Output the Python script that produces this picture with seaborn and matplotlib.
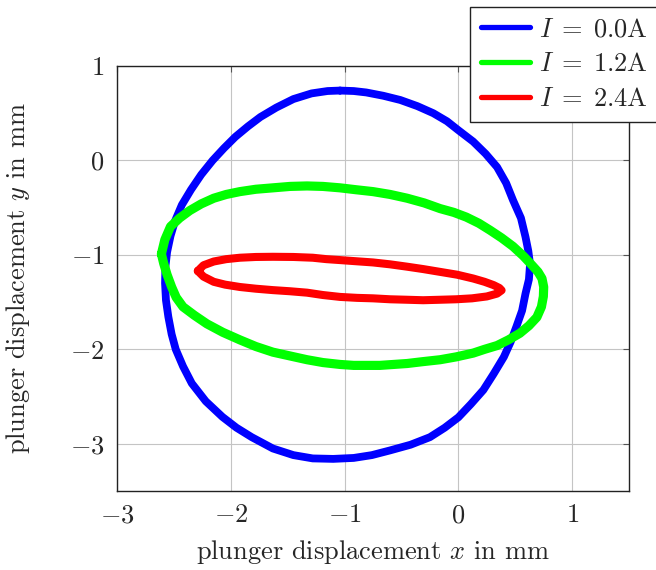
import numpy as np
import pandas as pd
import matplotlib
matplotlib.use("Agg")
import matplotlib.pyplot as plt
import seaborn as sns

# ---- data ----
labels = [r"$I\;=\;0.0$A", r"$I\;=\;1.2$A", r"$I\;=\;2.4$A"]
colors = ["#0000ff", "#00ff00", "#ff0000"]

x_00 = [-1.04, -0.92, -0.81, -0.66, -0.51, -0.36, -0.22, -0.10, 0.00, 0.13, 0.24, 0.34,
        0.42, 0.48, 0.55, 0.59, 0.615, 0.63, 0.62, 0.59, 0.56, 0.51, 0.46, 0.40, 0.31,
        0.22, 0.11, 0.00, -0.12, -0.25, -0.42, -0.60, -0.76, -0.92, -1.10, -1.28, -1.45,
        -1.63, -1.816, -1.95, -2.074, -2.22, -2.343, -2.42, -2.484, -2.52, -2.549,
        -2.57, -2.578, -2.575, -2.56, -2.53, -2.49, -2.43, -2.35, -2.26, -2.16, -2.06,
        -1.96, -1.85, -1.74, -1.60, -1.45, -1.29, -1.15]
y_00 = [0.74, 0.735, 0.72, 0.685, 0.64, 0.575, 0.50, 0.415, 0.32, 0.20, 0.07, -0.07,
        -0.24, -0.42, -0.61, -0.81, -0.96, -1.10, -1.26, -1.41, -1.59, -1.76, -1.92,
        -2.08, -2.26, -2.43, -2.58, -2.72, -2.83, -2.93, -3.01, -3.07, -3.12, -3.15,
        -3.16, -3.155, -3.12, -3.05, -2.93, -2.83, -2.715, -2.55, -2.36, -2.18, -2.00,
        -1.84, -1.656, -1.48, -1.30, -1.13, -0.97, -0.80, -0.64, -0.47, -0.31, -0.15,
        0.00, 0.13, 0.25, 0.36, 0.46, 0.56, 0.65, 0.71, 0.735]

x_12 = [-2.61, -2.58, -2.53, -2.45, -2.36, -2.26, -2.15, -2.04, -1.92, -1.78, -1.63,
        -1.48, -1.33, -1.19, -1.04, -0.90, -0.75, -0.60, -0.45, -0.30, -0.16, -0.04,
        0.07, 0.18, 0.28, 0.38, 0.48, 0.57, 0.64, 0.70, 0.735, 0.75, 0.747, 0.73, 0.69,
        0.62, 0.54, 0.44, 0.34, 0.23, 0.13, -0.02, -0.16, -0.31, -0.45, -0.57, -0.69,
        -0.81, -0.92, -1.04, -1.19, -1.33, -1.48, -1.63, -1.78, -1.92, -2.07, -2.21,
        -2.32, -2.42, -2.48, -2.52, -2.56, -2.59]
y_12 = [-0.99, -0.84, -0.70, -0.61, -0.53, -0.46, -0.40, -0.36, -0.33, -0.305, -0.29,
        -0.275, -0.27, -0.275, -0.29, -0.31, -0.33, -0.36, -0.40, -0.45, -0.51, -0.55,
        -0.60, -0.665, -0.74, -0.82, -0.91, -1.01, -1.10, -1.18, -1.25, -1.34, -1.44,
        -1.55, -1.66, -1.75, -1.83, -1.90, -1.96, -2.00, -2.04, -2.08, -2.11, -2.13,
        -2.15, -2.16, -2.17, -2.17, -2.17, -2.16, -2.14, -2.11, -2.07, -2.03, -1.97,
        -1.90, -1.82, -1.73, -1.64, -1.55, -1.45, -1.34, -1.21, -1.09]

x_24 = [-2.29, -2.24, -2.15, -2.04, -1.92, -1.78, -1.63, -1.45, -1.28, -1.16, -1.04,
        -0.89, -0.75, -0.60, -0.45, -0.31, -0.16, -0.01, 0.13, 0.23, 0.31, 0.36, 0.38,
        0.34, 0.25, 0.12, -0.02, -0.16, -0.31, -0.45, -0.60, -0.75, -0.89, -1.04,
        -1.19, -1.33, -1.48, -1.63, -1.78, -1.92, -2.05, -2.15, -2.24]
y_24 = [-1.17, -1.11, -1.07, -1.045, -1.03, -1.022, -1.02, -1.022, -1.03, -1.045,
        -1.055, -1.068, -1.08, -1.10, -1.125, -1.15, -1.18, -1.21, -1.25, -1.285,
        -1.32, -1.35, -1.375, -1.41, -1.44, -1.46, -1.47, -1.475, -1.48, -1.475,
        -1.47, -1.46, -1.455, -1.445, -1.425, -1.40, -1.385, -1.373, -1.358, -1.34,
        -1.315, -1.285, -1.23]

xticks = [-3, -2, -1, 0, 1]
yticks = [1, 0, -1, -2, -3]

frames = []
for lab, xs, ys in zip(labels, [x_00, x_12, x_24], [y_00, y_12, y_24]):
    xs_c = list(xs) + [xs[0]]
    ys_c = list(ys) + [ys[0]]
    frames.append(pd.DataFrame({"x": xs_c, "y": ys_c, "current": lab,
                                "idx": np.arange(len(xs_c))}))
df = pd.concat(frames, ignore_index=True)

# ---- style ----
sns.set_style("white")
plt.rcParams.update({
    "font.family": "serif",
    "font.serif": ["cmr10"],
    "mathtext.fontset": "cm",
    "axes.formatter.use_mathtext": True,
    "font.size": 19,
    "axes.unicode_minus": True,
})

fig = plt.figure(figsize=(6.56, 5.70), dpi=100)
ax = fig.add_axes([0.1784, 0.1386, 0.7805, 0.7456])

widths = {labels[0]: 5.6, labels[1]: 6.6, labels[2]: 5.8}
for lab, col in zip(labels, colors):
    sub = df[df["current"] == lab]
    sns.lineplot(data=sub, x="x", y="y", sort=False, estimator=None,
                 color=col, lw=widths[lab], ax=ax, label=lab,
                 solid_joinstyle="round", solid_capstyle="round", zorder=3)

ax.set_xlim(-3, 1.5)
ax.set_ylim(-3.5, 1)
ax.set_xticks(xticks)
ax.set_yticks(yticks)
ax.grid(True, color="#c4c4c4", lw=0.8, zorder=0)
ax.set_axisbelow(True)
ax.tick_params(direction="in", length=4, width=0.8, color="#555555",
               top=True, right=True, labelsize=19, pad=9)
for sp in ax.spines.values():
    sp.set_color("#222222")
    sp.set_linewidth(1.0)
    sp.set_zorder(4)

ax.set_xlabel(r"plunger displacement $x$ in mm", fontsize=19, labelpad=8)
ax.set_ylabel(r"plunger displacement $y$ in mm", fontsize=19, labelpad=27)

handles, labs = ax.get_legend_handles_labels()
ax.get_legend().remove()
leg = fig.legend(handles, labs, loc="upper left", bbox_to_anchor=(0.716, 0.988),
                 borderaxespad=0, frameon=True, fancybox=False, framealpha=1,
                 edgecolor="#222222", fontsize=19, handlelength=1.85,
                 labelspacing=0.42, handletextpad=0.35, borderpad=0.42)
leg.get_frame().set_linewidth(1.0)
for h in leg.legend_handles:
    h.set_linewidth(3.8)

fig.savefig("out.png", dpi=100)
